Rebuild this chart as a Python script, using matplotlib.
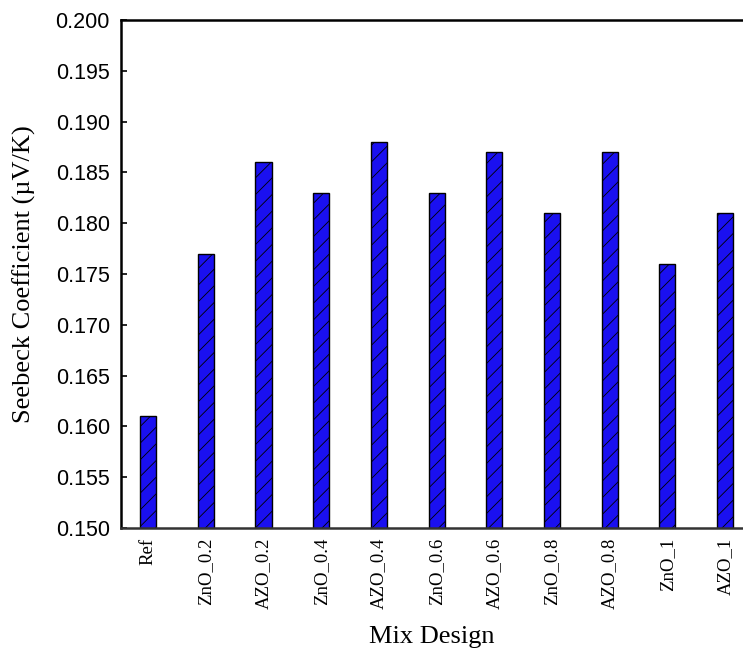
import matplotlib
matplotlib.use("Agg")
import matplotlib.pyplot as plt
import numpy as np

categories = ["Ref", "ZnO_0.2", "AZO_0.2", "ZnO_0.4", "AZO_0.4", "ZnO_0.6",
              "AZO_0.6", "ZnO_0.8", "AZO_0.8", "ZnO_1", "AZO_1"]
seebeck = [0.161, 0.177, 0.186, 0.183, 0.188, 0.183, 0.187, 0.181, 0.187, 0.176, 0.181]
y_ticks = [0.150, 0.155, 0.160, 0.165, 0.170, 0.175, 0.180, 0.185, 0.190, 0.195, 0.200]

plt.rcParams['hatch.linewidth'] = 0.6

fig = plt.figure(figsize=(7.43, 6.51), dpi=100)
ax = fig.add_axes([121 / 743, 1 - 528 / 651, 1 - 121 / 743, (528 - 20) / 651])

x = np.arange(len(categories))
ax.bar(x, seebeck, width=0.28, color="#1a10f0", edgecolor="black",
       linewidth=1.0, hatch="//", zorder=2)

ax.set_ylim(0.150, 0.200)
ax.set_xlim(-0.47, 10.31)
ax.set_yticks(y_ticks)
ax.set_yticklabels([f"{v:.3f}" for v in y_ticks], family="Liberation Sans", fontsize=15.5)
ax.set_xticks(x)
ax.set_xticklabels(categories, rotation=90, family="Liberation Serif", fontsize=13.5)
ax.tick_params(axis="y", direction="in", length=4, width=1.2, pad=8)
ax.tick_params(axis="x", length=0, pad=7)

ax.spines["right"].set_visible(False)
for side in ("left", "top", "bottom"):
    ax.spines[side].set_linewidth(1.8)
ax.spines["bottom"].set_color("#333333")

ax.set_ylabel("Seebeck Coefficient (\u00b5V/K)", family="Liberation Serif", fontsize=19, labelpad=14)
ax.set_xlabel("Mix Design", family="Liberation Serif", fontsize=19, labelpad=12)

fig.savefig("out.png", dpi=100)
